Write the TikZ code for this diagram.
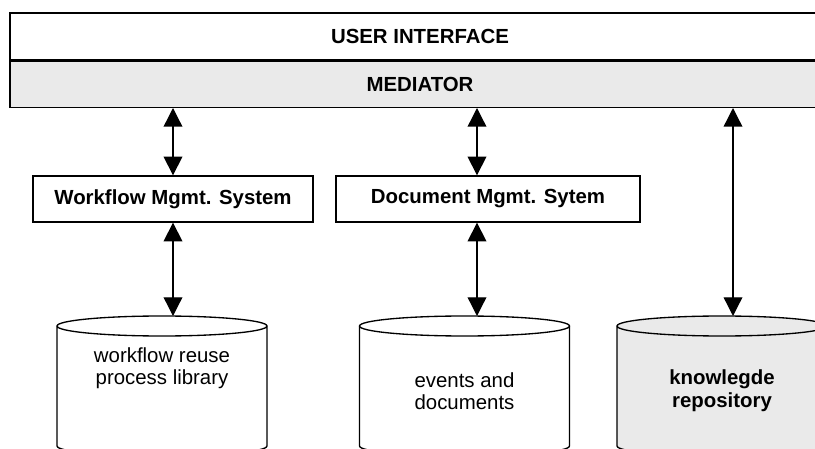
\documentclass[tikz,border=0pt]{standalone}
\usepackage{fontspec}
\setmainfont{Liberation Sans}
\usepackage{tikz}
\usetikzlibrary{positioning,arrows.meta}
\definecolor{paleGray}{HTML}{EAEAEA}

\begin{document}
\begin{tikzpicture}[x=0.75pt,y=0.75pt,line width=1pt,
    every node/.style={font=\fontsize{15.3}{16.5}\selectfont},
    layer/.style={draw,minimum width=615pt,inner sep=0pt,font=\fontsize{15.3}{17}\selectfont\bfseries},
    system/.style={draw,minimum height=34.5pt,inner sep=0pt,font=\fontsize{15.3}{17}\selectfont\bfseries},
    link/.style={{Triangle[width=14pt,length=14pt]}-{Triangle[width=14pt,length=14pt]}}]
    \clip (0,0) rectangle (815,-449);
    \def\drum#1{(#1-105,-326) -- (#1-105,-446) arc [start angle=180,end angle=360,x radius=105,y radius=10] -- (#1+105,-326)}
    \def\drumtop#1{(#1,-326) ellipse [x radius=105,y radius=10]}

    \node [layer, minimum height=35.25pt] (ui) at (420,-36.5) {USER INTERFACE};
    \node [layer, minimum height=34.5pt, fill=paleGray, below=0pt of ui] (med) {MEDIATOR};

    \node [system, minimum width=210pt] (wms) at (173,-199) {Workflow Mgmt. System};
    \node [system, minimum width=228pt] (dms) at (488,-199) {Document Mgmt. Sytem};

    \filldraw [fill=white] \drum{162} \drumtop{162};
    \filldraw [fill=white] \drum{464.5} \drumtop{464.5};
    \filldraw [fill=paleGray] \drum{722} \drumtop{722};

    \node [align=center] (lib) at (162,-368) {workflow reuse\\process library};
    \node [align=center] (evt) at (464.5,-391) {events and\\documents};
    \node [align=center, font=\fontsize{15.3}{17}\selectfont\bfseries] (know) at (722,-391) {knowlegde\\repository};

    \coordinate (libtop) at (162,-316);
    \coordinate (evttop) at (464.5,-316);
    \coordinate (dmsin) at ([xshift=-8.25pt]dms.north);
    \coordinate (knowin) at (733,-316);

    \draw [link] (wms.north |- med.south) -- (wms.north);
    \draw [link] (dmsin |- med.south) -- (dmsin);
    \draw [link] (knowin |- med.south) -- (knowin);
    \draw [link] (wms.south) -- (wms.south |- libtop);
    \draw [link] (dmsin |- dms.south) -- (dmsin |- evttop);
\end{tikzpicture}
\end{document}
